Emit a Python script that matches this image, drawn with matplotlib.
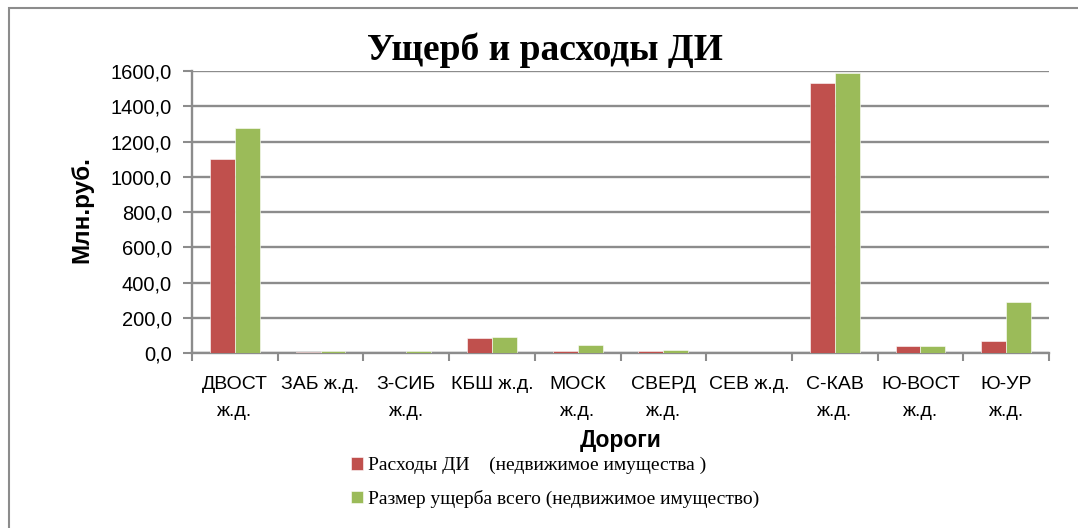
import numpy as np
import matplotlib.pyplot as plt
from matplotlib.patches import Rectangle
from matplotlib.ticker import FixedLocator

plt.rcParams['font.family'] = ['Liberation Sans', 'DejaVu Sans']

roads = ['ДВОСТ\nж.д.', 'ЗАБ ж.д.', 'З-СИБ\nж.д.', 'КБШ ж.д.', 'МОСК\nж.д.',
         'СВЕРД\nж.д.', 'СЕВ ж.д.', 'С-КАВ\nж.д.', 'Ю-ВОСТ\nж.д.', 'Ю-УР\nж.д.']
rashody = [1103, 8, 3, 86, 15, 15, 0, 1532, 41, 72]
usherb = [1277, 12, 15, 92, 47, 16, 0, 1591, 41, 288]
yticks = [0, 200, 400, 600, 800, 1000, 1200, 1400, 1600]

red = '#C0504D'
green = '#9BBB59'
grid_c = '#8C8C8C'

fig = plt.figure(figsize=(10.78, 5.28), dpi=100)
ax = fig.add_axes([192 / 1078, 1 - 353.3 / 528, (1049 - 192) / 1078, (353.3 - 71) / 528])

# рамка диаграммы (обрезана справа и снизу)
fig.patches.append(Rectangle((9 / 1078, -0.1), 1.2, 1 - 8 / 528 + 0.1, transform=fig.transFigure,
                             fill=False, edgecolor='#8C8C8C', linewidth=1.5))

x = np.arange(len(roads))
w = 0.29
b1 = ax.bar(x - w / 2, rashody, w, color=red, edgecolor='white', linewidth=0.4, zorder=3)
b2 = ax.bar(x + w / 2, usherb, w, color=green, edgecolor='white', linewidth=0.4, zorder=3)

ax.set_xlim(-0.5, len(roads) - 0.5)
ax.set_ylim(0, 1600)
ax.set_yticks(yticks)
ax.set_yticklabels([f'{v:.1f}'.replace('.', ',') for v in yticks], fontsize=14.5)
ax.yaxis.grid(True, color=grid_c, linewidth=1.7, zorder=0)
ax.set_axisbelow(True)

ax.set_xticks(x)
ax.set_xticklabels(roads, fontsize=14, linespacing=1.8, va='top')
ax.tick_params(axis='x', which='major', length=0, pad=16)
ax.xaxis.set_minor_locator(FixedLocator(np.arange(-0.5, len(roads), 1)))
ax.tick_params(axis='x', which='minor', length=6, width=1.5, color=grid_c, direction='out')
ax.tick_params(axis='y', length=6.5, width=1.5, color=grid_c, direction='out', pad=8)

for s in ['top', 'right']:
    ax.spines[s].set_visible(False)
for s in ['left', 'bottom']:
    ax.spines[s].set_color(grid_c)
    ax.spines[s].set_linewidth(1.7)

fig.text(545 / 1078, 1 - 50 / 528, 'Ущерб и расходы ДИ', fontsize=27, fontweight='bold',
         family='Liberation Serif', ha='center', va='center')
fig.text(82 / 1078, 1 - 210 / 528, 'Млн.руб.', fontsize=17.5, fontweight='bold',
         rotation=90, ha='center', va='center')
fig.text(621 / 1078, 1 - 441 / 528, 'Дороги', fontsize=16.5, fontweight='bold',
         ha='center', va='center')

fig.legend([b1, b2],
           ['Расходы ДИ    (недвижимое имущества )', 'Размер ущерба всего (недвижимое имущество)'],
           loc='upper left', bbox_to_anchor=(351 / 1078, 1 - 457 / 528), frameon=False,
           prop={'family': 'Liberation Serif', 'size': 14}, handlelength=0.6, handleheight=0.6,
           handletextpad=0.25, labelspacing=0.8, borderpad=0, borderaxespad=0)

fig.savefig('out.png', dpi=100)
